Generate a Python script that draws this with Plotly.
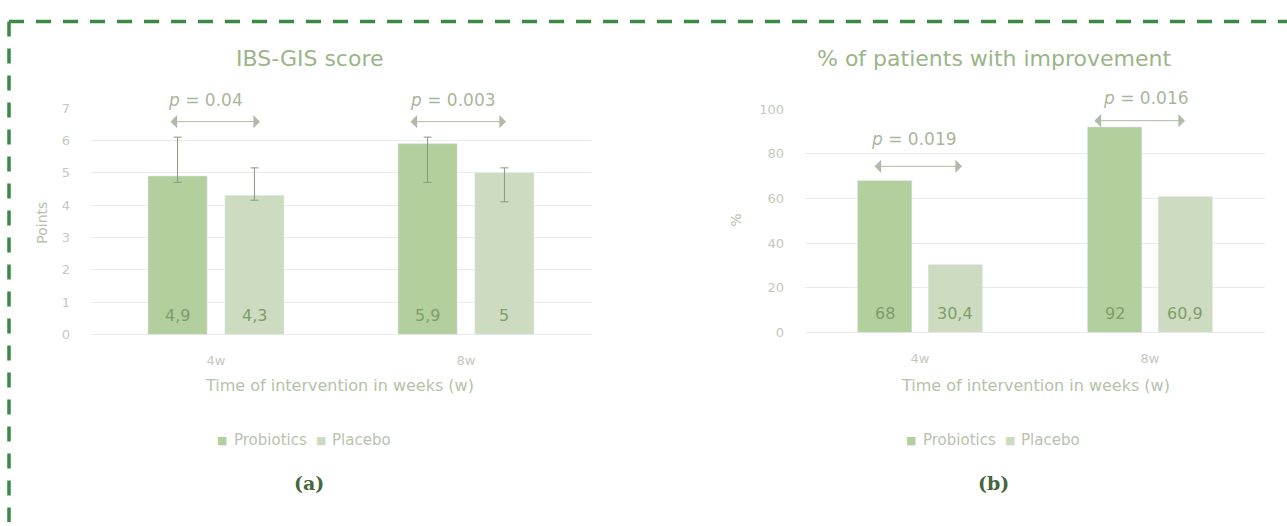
import plotly.graph_objects as go

W, H = 1287, 526

# ---------------- data ----------------
weeks = ["4w", "8w"]
series = ["Probiotics", "Placebo"]

gis_probiotics = [4.9, 5.9]
gis_placebo = [4.3, 5.0]
gis_prob_err_plus = [1.2, 0.2]
gis_prob_err_minus = [0.2, 1.2]
gis_plac_err_plus = [0.85, 0.15]
gis_plac_err_minus = [0.15, 0.9]
gis_pvalues = ["0.04", "0.003"]

impr_probiotics = [68, 92]
impr_placebo = [30.4, 60.9]
impr_pvalues = ["0.019", "0.016"]

gis_ticks = [0, 1, 2, 3, 4, 5, 6, 7]
impr_ticks = [0, 20, 40, 60, 80, 100]

# ---------------- styles ----------------
C_PROB = "#b3cf9e"
C_PLAC = "#cddcc0"
C_BARTXT = "#7f9c6b"
C_TICK = "#c3c9bd"
C_TITLE = "#9ab588"
C_AXTITLE = "#b4c2a8"
C_P = "#a9b69d"
C_GRID = "#ebebeb"
C_BORDER = "#3a8a45"
FONT = "DejaVu Sans"
BARGAP = 0.385
BARGROUPGAP = 0.23


def px(x):
    return x / W


def py(y):
    return 1 - y / H


def lab(v):
    return ("%g" % v).replace(".", ",")


fig = go.Figure()

err_style = dict(color="#8a987c", thickness=1, width=4)

fig.add_trace(go.Bar(
    x=weeks, y=gis_probiotics, name=series[0], marker_color=C_PROB,
    error_y=dict(type="data", symmetric=False, array=gis_prob_err_plus,
                 arrayminus=gis_prob_err_minus, **err_style),
    xaxis="x", yaxis="y", showlegend=False))
fig.add_trace(go.Bar(
    x=weeks, y=gis_placebo, name=series[1], marker_color=C_PLAC,
    error_y=dict(type="data", symmetric=False, array=gis_plac_err_plus,
                 arrayminus=gis_plac_err_minus, **err_style),
    xaxis="x", yaxis="y", showlegend=False))
fig.add_trace(go.Bar(
    x=weeks, y=impr_probiotics, name=series[0], marker_color=C_PROB,
    xaxis="x2", yaxis="y2", showlegend=False))
fig.add_trace(go.Bar(
    x=weeks, y=impr_placebo, name=series[1], marker_color=C_PLAC,
    xaxis="x2", yaxis="y2", showlegend=False))

tickfont = dict(family=FONT, size=13, color=C_TICK)
xcommon = dict(type="category", showgrid=False, showline=False, ticks="",
               tickfont=tickfont, ticklabelstandoff=17, zeroline=False,
               fixedrange=True)
ycommon = dict(showgrid=True, gridcolor=C_GRID, gridwidth=1, zeroline=True,
               zerolinecolor=C_GRID, zerolinewidth=1, showline=False,
               ticks="", tickfont=tickfont, ticklabelstandoff=20,
               fixedrange=True)

fig.update_layout(
    width=W, height=H,
    margin=dict(l=0, r=0, t=0, b=0),
    paper_bgcolor="white", plot_bgcolor="white",
    barmode="group", bargap=BARGAP, bargroupgap=BARGROUPGAP,
    xaxis=dict(domain=[px(91), px(591)], anchor="y", **xcommon),
    yaxis=dict(domain=[py(337), py(104)], range=[0, 7], tickvals=gis_ticks,
               anchor="x", **ycommon),
    xaxis2=dict(domain=[px(805), px(1265)], anchor="y2", **xcommon),
    yaxis2=dict(domain=[py(335), py(105)], range=[0, 100], tickvals=impr_ticks,
                anchor="x2", **ycommon),
)

ann = []


def text(x, y, s, size, color, angle=0, family=FONT, xanchor="center"):
    ann.append(dict(x=px(x), y=py(y), xref="paper", yref="paper", text=s,
                    showarrow=False, textangle=angle, xanchor=xanchor,
                    yanchor="middle",
                    font=dict(family=family, size=size, color=color)))


def arrow(x0, x1, y):
    ann.append(dict(x=px(x1), y=py(y), ax=x0 - x1, ay=0, xref="paper",
                    yref="paper", axref="pixel", ayref="pixel", text="",
                    showarrow=True, arrowside="end+start", arrowhead=1,
                    arrowsize=2.2, arrowwidth=1, arrowcolor="#b0baa8",
                    standoff=0, startstandoff=0))


# value labels near the base of each bar (placed through the axes)
slot = (1 - BARGAP) / 2
for xa, ya, vals_list in (("x", "y", [gis_probiotics, gis_placebo]),
                          ("x2", "y2", [impr_probiotics, impr_placebo])):
    for k, vals in enumerate(vals_list):
        off = (k - 0.5) * slot
        for i, v in enumerate(vals):
            ann.append(dict(x=i + off, y=0, xref=xa, yref=ya, text=lab(v),
                            showarrow=False, yshift=19, yanchor="middle",
                            font=dict(family=FONT, size=16, color=C_BARTXT)))

# titles
text(310, 53, "IBS-GIS score", 22, C_TITLE)
text(995, 53, "% of patients with improvement", 22, C_TITLE)
# axis titles
text(42, 222, "Points", 14, C_AXTITLE, angle=-90)
text(736, 220, "%", 14, C_AXTITLE, angle=-90)
text(339, 390, "Time of intervention in weeks (w)", 16, C_AXTITLE)
text(1035, 390, "Time of intervention in weeks (w)", 16, C_AXTITLE)
# p-values
text(205, 96, "<i>p</i> = " + gis_pvalues[0], 17, C_P)
text(453, 96, "<i>p</i> = " + gis_pvalues[1], 17, C_P)
text(914, 136, "<i>p</i> = " + impr_pvalues[0], 17, C_P)
text(1146, 94, "<i>p</i> = " + impr_pvalues[1], 17, C_P)
arrow(169, 260, 118)
arrow(409, 506, 118)
arrow(873, 962, 164)
arrow(1093, 1185, 117)
# legends
C_LEG = "#b9c2b1"
for x0 in (218, 907):
    text(x0 + 4, 446, "<span style='color:%s'>■</span>" % C_PROB, 11, C_LEG)
    text(x0 + 14, 446, series[0], 15, C_LEG, xanchor="left")
    text(x0 + 103, 446, "<span style='color:%s'>■</span>" % C_PLAC, 11, C_LEG)
    text(x0 + 112, 446, series[1], 15, C_LEG, xanchor="left")
# panel labels
text(309, 490, "<b>(a)</b>", 19, "#46663c", family="DejaVu Serif")
text(993, 490, "<b>(b)</b>", 19, "#46663c", family="DejaVu Serif")

fig.update_layout(annotations=ann)

# dashed green frame
frame = dict(color=C_BORDER, width=3.5, dash="15px,12px")
fig.add_shape(type="line", xref="paper", yref="paper",
              x0=px(9), y0=py(15), x1=px(1290), y1=py(15), line=frame)
fig.add_shape(type="line", xref="paper", yref="paper",
              x0=px(9), y0=py(15), x1=px(9), y1=py(530), line=frame)

fig.write_html("out.html")
